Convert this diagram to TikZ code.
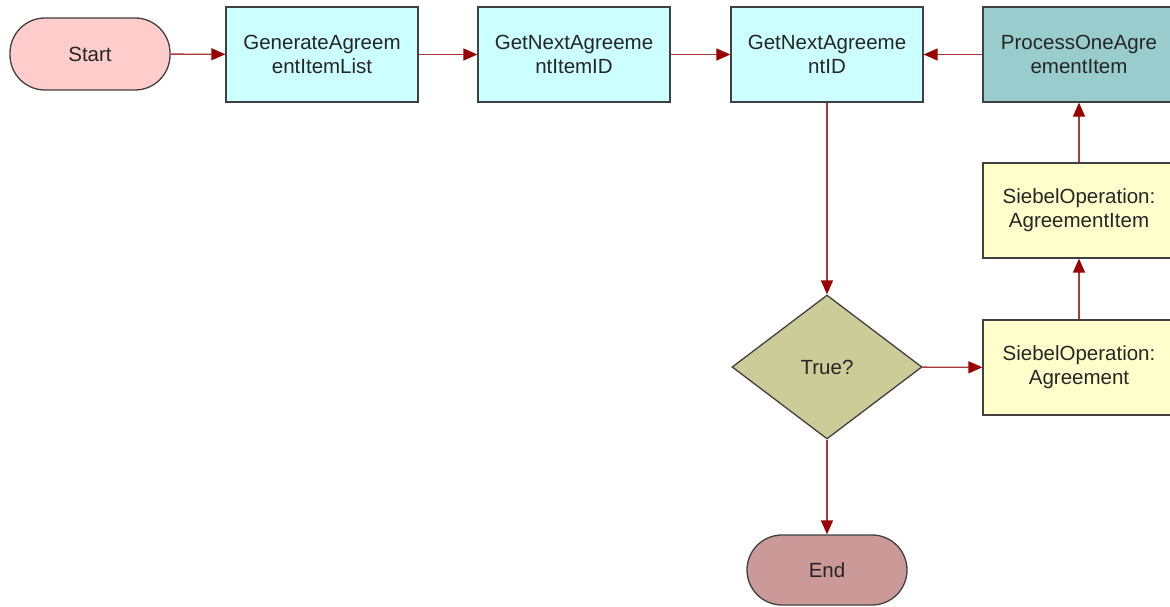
\documentclass[tikz,border=0pt]{standalone}
\usepackage{fontspec}
\setmainfont{Liberation Sans}
\usetikzlibrary{arrows.meta,shapes.geometric}
\definecolor{startc}{HTML}{FFCCCC}
\definecolor{endc}{HTML}{CC9999}
\definecolor{cyanc}{HTML}{CCFFFF}
\definecolor{tealc}{HTML}{99CCCC}
\definecolor{yelc}{HTML}{FFFFCC}
\definecolor{olivec}{HTML}{CCCC99}
\definecolor{arrc}{HTML}{990000}
\definecolor{linec}{HTML}{A83A3A}
\definecolor{edgec}{HTML}{404040}
\definecolor{txtc}{HTML}{262626}
\tikzset{
  base/.style={draw=edgec, line width=1.3pt, text=txtc, align=center, inner sep=0pt,
    font=\fontsize{20.5}{24}\selectfont},
  terminal/.style={base, rectangle, rounded corners=35pt, minimum width=160pt, minimum height=72pt},
  taskbox/.style={base, rectangle, minimum width=192pt, minimum height=95pt},
  decision/.style={base, diamond, aspect=1.32, minimum width=190pt, minimum height=144pt},
  flow/.style={draw=linec, line width=1.4pt, -{Triangle[length=14pt,width=12pt,color=arrc]}}
}
\begin{document}
\begin{tikzpicture}[x=1pt,y=-1pt]
\useasboundingbox (0,0) rectangle (1170,607);
\clip (0,0) rectangle (1170,607);
\node[terminal, fill=startc] (start) at (90,54) {Start};
\node[taskbox, fill=cyanc] (gen) at (322,54.5) {GenerateAgreem\\entItemList};
\node[taskbox, fill=cyanc] (nextitem) at (574,54.5) {GetNextAgreeme\\ntItemID};
\node[taskbox, fill=cyanc] (nextagr) at (827,54.5) {GetNextAgreeme\\ntID};
\node[taskbox, fill=tealc] (proc) at (1079,54.5) {ProcessOneAgre\\ementItem};
\node[taskbox, fill=yelc] (opitem) at (1079,210.5) {SiebelOperation:\\AgreementItem};
\node[taskbox, fill=yelc] (opagr) at (1079,367.5) {SiebelOperation:\\Agreement};
\node[decision, fill=olivec] (dec) at (827,367) {True?};
\node[terminal, fill=endc, minimum height=70pt] (end) at (827,570) {End};
\draw[flow] (start) -- (gen);
\draw[flow] (gen) -- (nextitem);
\draw[flow] (nextitem) -- (nextagr);
\draw[flow] (proc) -- (nextagr);
\draw[flow] (nextagr) -- (dec);
\draw[flow] (dec) -- (end);
\draw[flow] (dec) -- (opagr);
\draw[flow] (opagr) -- (opitem);
\draw[flow] (opitem) -- (proc);
\end{tikzpicture}
\end{document}
